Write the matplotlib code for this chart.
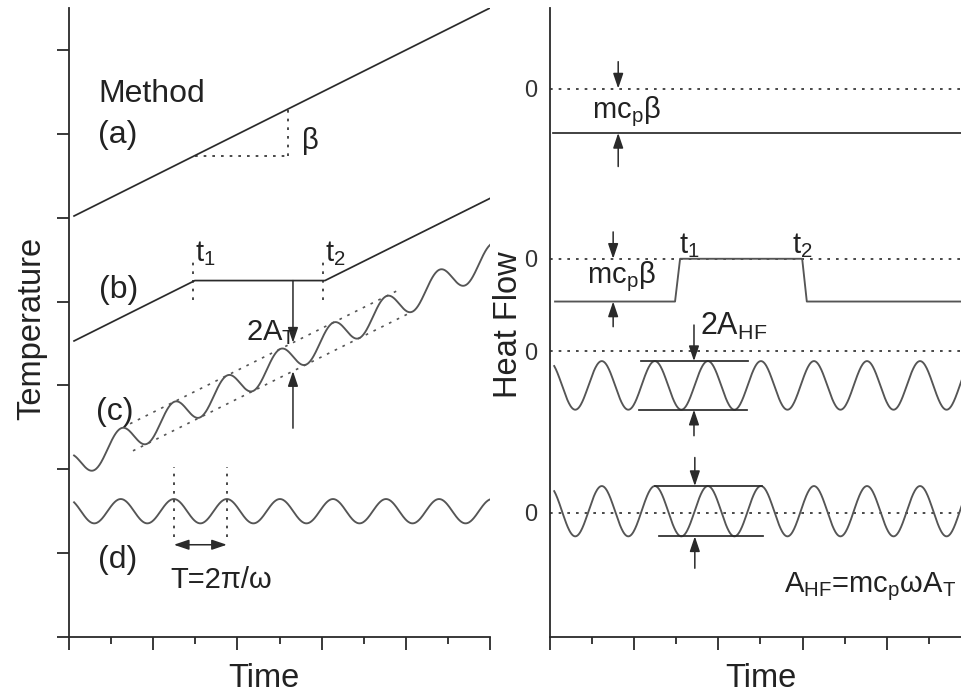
import numpy as np
import matplotlib
matplotlib.use("Agg")
import matplotlib.pyplot as plt

plt.rcParams['font.family'] = ['Liberation Sans', 'DejaVu Sans']
plt.rcParams['mathtext.fontset'] = 'custom'
plt.rcParams['mathtext.rm'] = 'Liberation Sans'
plt.rcParams['mathtext.it'] = 'Liberation Sans'
plt.rcParams['mathtext.bf'] = 'Liberation Sans:bold'

# ---------------- data (schematic) ----------------
# common modulation
wave_period = 1.26
wave_peak0 = 1.23

# Left panel: Temperature
a_x = [0.12, 10.0]
a_y = [5.02, 7.50]
beta_x = [2.99, 5.21]          # horizontal dotted leg of slope triangle
beta_y = [5.74, 6.30]          # bottom / top of vertical leg
b_x = [0.12, 2.99, 6.08, 10.0]
b_y = [3.53, 4.25, 4.25, 5.23]
t_marks_left = [2.95, 6.03]
c_x = [0.12, 10.0]
c_center_y = [2.04, 4.51]
c_amp = 0.17
c_env_upper_x = [1.45, 7.81]
c_env_lower_x = [1.52, 8.15]
d_x = [0.12, 10.0]
d_center = 1.50
d_amp = 0.145
period_peaks = [2.49, 3.75]

# Right panel: Heat Flow
hf_zero_levels = [6.54, 4.51, 3.41, 1.48]
hf_a_x = [0.07, 10.0]
hf_a_y = [6.01, 6.01]
hf_b_x = [0.12, 2.97, 3.09, 5.99, 6.10, 10.0]
hf_b_y = [4.00, 4.00, 4.51, 4.51, 4.00, 4.00]
hf_c_x = [0.10, 10.0]
hf_c_center = 3.00
hf_c_amp = 0.29
hf_d_x = [0.10, 10.0]
hf_d_center = 1.50
hf_d_amp = 0.30

LINE = '#2a2a2a'
WAVE = '#555555'
TXT = '#222222'
DOT = (0, (1.6, 3.6))


def wave(xr, center_y, amp, n=800):
    x = np.linspace(xr[0], xr[1], n)
    if np.ndim(center_y) == 0:
        cy = np.full_like(x, center_y)
    else:
        cy = np.interp(x, xr, center_y)
    return x, cy + amp * np.cos(2 * np.pi * (x - wave_peak0) / wave_period)


def arrow(ax, tail, tip, both=False):
    style = ('<|-|>' if both else '-|>') + ',head_length=0.65,head_width=0.22'
    ax.annotate('', xy=tip, xytext=tail,
                arrowprops=dict(arrowstyle=style, color=LINE, lw=1.1,
                                mutation_scale=14, shrinkA=0, shrinkB=0))


fig = plt.figure(figsize=(9.62, 6.97), dpi=100)
W, H = 962.0, 697.0
ax1 = fig.add_axes([69 / W, 60 / H, 421 / W, 629 / H])
ax2 = fig.add_axes([550 / W, 60 / H, 421 / W, 629 / H])

for ax in (ax1, ax2):
    ax.set_xlim(0, 10)
    ax.set_ylim(0, 7.5)
    for s in ('top', 'right'):
        ax.spines[s].set_visible(False)
    for s in ('left', 'bottom'):
        ax.spines[s].set_linewidth(1.3)
        ax.spines[s].set_color(LINE)
    ax.set_xticks([0, 2, 4, 6, 8, 10])
    ax.set_xticks([1, 3, 5, 7, 9], minor=True)
    ax.tick_params(axis='x', which='major', direction='out', length=9,
                   width=1.3, color=LINE, labelbottom=False)
    ax.tick_params(axis='x', which='minor', direction='out', length=5,
                   width=1.3, color=LINE)
    ax.set_xlabel('Time', fontsize=23.5, color=TXT)

# ---------- left panel ----------
ax1.set_yticks(range(0, 8))
ax1.tick_params(axis='y', direction='out', length=9, width=1.3,
                color=LINE, labelleft=False)
ax1.set_ylabel('Temperature', fontsize=23.5, color=TXT)
ax1.yaxis.set_label_coords(-0.052, 0.49)
ax1.xaxis.set_label_coords(0.463, -0.042)

ax1.plot(a_x, a_y, color=LINE, lw=1.25)
ax1.plot(beta_x, [beta_y[0], beta_y[0]], color=LINE, lw=1.2, ls=DOT)
ax1.plot([beta_x[1], beta_x[1]], beta_y, color=LINE, lw=1.2, ls=DOT)
ax1.plot(b_x, b_y, color=LINE, lw=1.25)
for tx in t_marks_left:
    ax1.plot([tx, tx], [4.02, 4.47], color=LINE, lw=1.2, ls=DOT)

x, y = wave(c_x, c_center_y, c_amp)
ax1.plot(x, y, color=WAVE, lw=1.35)
cu = np.interp(c_env_upper_x, c_x, c_center_y) + c_amp
cl = np.interp(c_env_lower_x, c_x, c_center_y) - c_amp
ax1.plot(c_env_upper_x, cu, color='#555555', lw=1.2, ls=DOT)
ax1.plot(c_env_lower_x, cl, color='#555555', lw=1.2, ls=DOT)

x, y = wave(d_x, d_center, d_amp)
ax1.plot(x, y, color=WAVE, lw=1.35)
for px in period_peaks:
    ax1.plot([px, px], [1.19, 2.03], color=LINE, lw=1.2, ls=DOT)
arrow(ax1, (period_peaks[0], 1.10), (period_peaks[1], 1.10), both=True)

# 2A_T arrows
xa = 5.32
up_env = np.interp(xa, c_x, c_center_y) + c_amp
lo_env = np.interp(xa, c_x, c_center_y) - c_amp
arrow(ax1, (xa, b_y[1]), (xa, up_env))
arrow(ax1, (xa, 2.49), (xa, lo_env))

fl = 23
fs = 21
ax1.text(0.69, 6.47, 'Method', fontsize=fl, va='center', ha='left', color=TXT)
ax1.text(0.69, 5.99, '(a)', fontsize=fl, va='center', ha='left', color=TXT)
ax1.text(5.53, 5.91, 'β', fontsize=fs, va='center', ha='left', color=TXT)
ax1.text(0.72, 4.14, '(b)', fontsize=fl, va='center', ha='left', color=TXT)
ax1.text(3.00, 4.40, 't$_1$', fontsize=fs, va='bottom', ha='left', color=TXT)
ax1.text(6.08, 4.40, 't$_2$', fontsize=fs, va='bottom', ha='left', color=TXT)
ax1.text(4.20, 3.54, '2A$_T$', fontsize=fs, va='baseline', ha='left', color=TXT)
ax1.text(0.65, 2.68, '(c)', fontsize=fl, va='center', ha='left', color=TXT)
ax1.text(0.69, 0.92, '(d)', fontsize=fl, va='center', ha='left', color=TXT)
ax1.text(2.40, 0.68, 'T=2π/ω', fontsize=fs, va='center', ha='left', color=TXT)

# ---------- right panel ----------
ax2.set_yticks(hf_zero_levels)
ax2.set_yticklabels(['0'] * len(hf_zero_levels))
ax2.tick_params(axis='y', length=0, pad=9, labelsize=17, labelcolor='#333333')
ax2.set_ylabel('Heat Flow', fontsize=23.5, color=TXT)
ax2.yaxis.set_label_coords(-0.062, 0.497)
ax2.xaxis.set_label_coords(0.5, -0.042)

for z in hf_zero_levels:
    ax2.axhline(z, color=LINE, lw=1.2, ls=DOT)

ax2.plot(hf_a_x, hf_a_y, color=LINE, lw=1.25)
arrow(ax2, (1.62, 6.86), (1.62, hf_zero_levels[0]))
arrow(ax2, (1.62, 5.61), (1.62, hf_a_y[0]))
ax2.text(1.00, 6.26, 'mc$_p$β', fontsize=fs, va='center', ha='left', color=TXT)

ax2.plot(hf_b_x, hf_b_y, color=WAVE, lw=1.35)
arrow(ax2, (1.50, 4.83), (1.50, hf_zero_levels[1]))
arrow(ax2, (1.50, 3.70), (1.50, hf_b_y[0]))
ax2.text(0.88, 4.30, 'mc$_p$β', fontsize=fs, va='center', ha='left', color=TXT)
ax2.text(3.06, 4.50, 't$_1$', fontsize=fs, va='bottom', ha='left', color=TXT)
ax2.text(5.75, 4.50, 't$_2$', fontsize=fs, va='bottom', ha='left', color=TXT)

x, y = wave(hf_c_x, hf_c_center, hf_c_amp)
ax2.plot(x, y, color=WAVE, lw=1.35)
ax2.plot([2.16, 4.70], [hf_c_center + hf_c_amp] * 2, color=LINE, lw=1.25)
ax2.plot([2.11, 4.68], [hf_c_center - hf_c_amp] * 2, color=LINE, lw=1.25)
arrow(ax2, (3.42, 3.72), (3.42, hf_c_center + hf_c_amp))
arrow(ax2, (3.42, 2.40), (3.42, hf_c_center - hf_c_amp))
ax2.text(3.56, 3.60, '2A$_{HF}$', fontsize=22, va='baseline', ha='left', color=TXT)

x, y = wave(hf_d_x, hf_d_center, hf_d_amp)
ax2.plot(x, y, color=WAVE, lw=1.35)
ax2.plot([2.49, 5.04], [hf_d_center + hf_d_amp] * 2, color=LINE, lw=1.25)
ax2.plot([2.59, 5.06], [hf_d_center - hf_d_amp] * 2, color=LINE, lw=1.25)
arrow(ax2, (3.44, 2.14), (3.44, hf_d_center + hf_d_amp))
arrow(ax2, (3.44, 0.82), (3.44, hf_d_center - hf_d_amp))
ax2.text(5.55, 0.53, 'A$_{HF}$=mc$_p$ωA$_T$', fontsize=21, va='baseline',
         ha='left', color=TXT)

fig.savefig('out.png', dpi=100)
